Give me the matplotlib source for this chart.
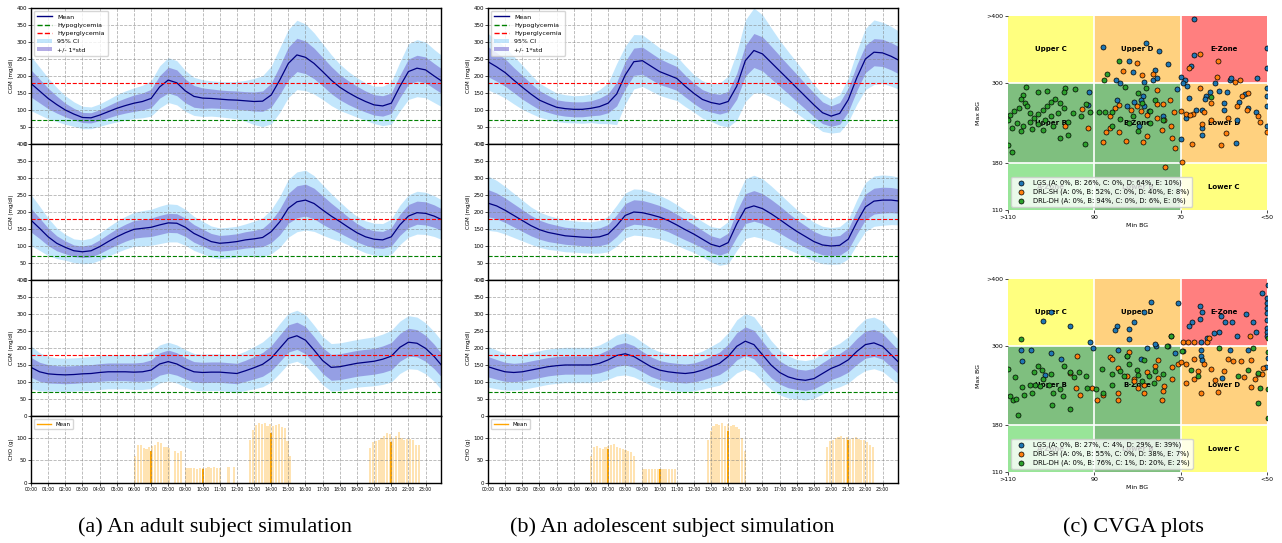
import numpy as np
import matplotlib
matplotlib.use("Agg")
import matplotlib.pyplot as plt
from matplotlib.lines import Line2D
from matplotlib.patches import Patch, Rectangle

# sampling grid of the simulated CGM traces (every 30 min)
hours = np.arange(0, 24.01, 0.5)

# ---------------- adult subject ----------------
a1_mean = [178, 156, 134, 116, 100, 88, 78, 77, 85, 95, 105, 113, 120, 125, 134, 168, 188, 180, 156, 140,
           135, 134, 132, 130, 129, 127, 125, 126, 144, 188, 237, 262, 255, 237, 213, 188, 167, 151, 137, 125,
           115, 112, 120, 169, 213, 223, 218, 200, 183]
a1_std = [40, 35, 30, 25, 20, 17, 15, 15, 16, 18, 20, 22, 24, 25, 27, 33, 38, 38, 35, 32,
          30, 28, 27, 27, 27, 27, 28, 30, 35, 42, 48, 49, 48, 45, 42, 40, 37, 35, 33, 31,
          30, 30, 30, 33, 37, 38, 38, 37, 36]
a1_ci = [80, 70, 60, 50, 42, 36, 33, 32, 33, 36, 40, 43, 45, 48, 52, 62, 66, 65, 60, 56,
         54, 52, 52, 53, 55, 60, 68, 75, 85, 95, 100, 102, 98, 90, 82, 75, 68, 62, 58, 55,
         55, 58, 62, 72, 82, 84, 82, 78, 75]

a2_mean = [176, 152, 127, 108, 96, 86, 83, 86, 98, 113, 127, 139, 149, 152, 155, 162, 168, 167, 155, 137,
           125, 113, 108, 110, 113, 118, 121, 125, 142, 171, 211, 230, 235, 225, 206, 188, 172, 155, 139, 127,
           120, 118, 127, 162, 188, 198, 196, 188, 176]
a2_std = [35, 30, 26, 22, 19, 17, 17, 18, 20, 22, 24, 25, 26, 26, 27, 28, 28, 28, 27, 26,
          25, 24, 23, 23, 23, 24, 25, 27, 32, 38, 44, 47, 47, 45, 42, 38, 34, 30, 27, 25,
          25, 25, 27, 31, 34, 34, 34, 33, 32]
a2_ci = [75, 65, 55, 45, 38, 35, 35, 37, 40, 43, 46, 48, 50, 52, 53, 55, 56, 55, 53, 50,
         48, 46, 45, 45, 45, 47, 52, 58, 65, 75, 85, 88, 88, 82, 74, 66, 58, 52, 48, 47,
         47, 48, 52, 58, 62, 63, 62, 60, 58]

a3_mean = [143, 130, 124, 122, 121, 122, 124, 125, 128, 130, 130, 130, 129, 130, 135, 153, 160, 153, 140, 130,
           128, 129, 129, 127, 125, 133, 142, 152, 170, 199, 228, 236, 223, 194, 163, 143, 145, 150, 155, 158,
           161, 167, 176, 202, 217, 214, 199, 175, 145]
a3_std = [29, 28, 27, 26, 26, 26, 26, 26, 26, 26, 26, 26, 27, 28, 30, 33, 34, 33, 31, 30,
          30, 30, 30, 30, 30, 31, 33, 35, 37, 39, 40, 40, 40, 39, 38, 38, 38, 38, 38, 38,
          38, 39, 40, 41, 41, 40, 38, 36, 34]
a3_ci = [63, 56, 51, 49, 49, 49, 49, 50, 50, 50, 50, 50, 51, 52, 54, 56, 57, 56, 55, 54,
         54, 54, 54, 55, 56, 58, 62, 66, 70, 73, 74, 75, 75, 73, 71, 70, 70, 70, 70, 71,
         72, 74, 76, 77, 78, 77, 75, 73, 72]

# ---------------- adolescent subject ----------------
b1_mean = [242, 227, 210, 188, 167, 147, 129, 118, 108, 104, 102, 102, 105, 110, 120, 147, 203, 242, 245, 229,
           213, 203, 193, 170, 149, 131, 122, 117, 125, 170, 245, 275, 265, 240, 215, 190, 165, 140, 115, 92,
           82, 90, 130, 195, 250, 270, 268, 258, 245]
b1_std = [44, 42, 40, 37, 35, 31, 28, 25, 22, 22, 22, 22, 22, 25, 28, 35, 40, 40, 40, 39,
          38, 36, 35, 32, 30, 29, 28, 29, 30, 38, 45, 50, 50, 48, 45, 42, 40, 37, 35, 32,
          30, 32, 35, 38, 40, 40, 40, 40, 40]
b1_ci = [83, 79, 75, 70, 65, 57, 50, 46, 42, 41, 40, 41, 42, 50, 60, 90, 85, 80, 76, 73,
         70, 68, 65, 60, 55, 55, 55, 62, 75, 100, 120, 125, 115, 102, 90, 82, 75, 68, 60, 55,
         50, 55, 65, 78, 90, 95, 90, 88, 85]

b2_mean = [226, 218, 205, 190, 175, 160, 148, 140, 135, 130, 128, 126, 125, 127, 135, 160, 190, 200, 198, 192,
           185, 175, 162, 148, 135, 120, 105, 98, 110, 165, 210, 218, 210, 195, 178, 160, 143, 128, 113, 103,
           100, 102, 120, 170, 215, 232, 235, 235, 232]
b2_std = [40, 38, 36, 34, 32, 30, 28, 27, 26, 25, 25, 25, 25, 26, 28, 32, 35, 36, 36, 35,
          34, 33, 32, 30, 28, 26, 25, 25, 28, 38, 44, 45, 44, 42, 40, 37, 34, 32, 30, 29,
          28, 29, 31, 35, 38, 38, 38, 37, 36]
b2_ci = [80, 75, 70, 65, 60, 55, 52, 50, 48, 47, 46, 46, 46, 48, 52, 60, 66, 68, 68, 66,
         64, 62, 60, 57, 54, 52, 52, 55, 62, 78, 88, 90, 88, 82, 76, 70, 64, 60, 57, 55,
         54, 55, 58, 66, 72, 74, 74, 72, 70]

b3_mean = [145, 137, 130, 128, 130, 135, 140, 145, 148, 150, 150, 150, 150, 155, 165, 178, 183, 175, 160, 145,
           135, 130, 127, 125, 128, 135, 145, 155, 175, 205, 220, 210, 180, 150, 128, 115, 108, 105, 110, 125,
           140, 150, 165, 190, 210, 215, 205, 180, 155]
b3_std = [30, 29, 28, 27, 27, 27, 27, 27, 27, 27, 27, 27, 27, 28, 30, 32, 33, 32, 30, 29,
          28, 28, 28, 28, 28, 29, 31, 33, 36, 40, 42, 42, 40, 37, 34, 32, 30, 30, 30, 32,
          33, 34, 36, 38, 40, 40, 38, 36, 34]
b3_ci = [60, 57, 54, 52, 52, 52, 52, 52, 52, 52, 52, 52, 52, 54, 57, 60, 62, 60, 57, 55,
         54, 54, 54, 54, 54, 56, 60, 64, 70, 78, 82, 82, 78, 72, 66, 62, 58, 58, 58, 60,
         62, 64, 68, 72, 76, 76, 74, 70, 66]

# ---------------- carbohydrate intake (10-min samples per meal window) ----------------
cho_step = 1 / 6
cho_a_start = [6.0, 8.95, 11.45, 12.72, 19.7]
cho_a_light = [[60, 83, 84, 78, 76, 80, 82, 85, 90, 88, 80, 80, 78, 0, 70, 66, 70],
               [34, 33, 34, 33, 32, 34, 33, 34, 35, 34, 35, 34, 33],
               [36, 0, 36],
               [96, 117, 128, 132, 130, 133, 127, 131, 126, 128, 130, 124, 122, 93, 60],
               [78, 90, 92, 96, 100, 104, 111, 108, 100, 104, 112, 100, 96, 98, 97, 96, 85, 84]]
cho_a_mean_t = [7, 10, 14, 21]
cho_a_mean = [70, 32, 111, 90]

cho_b_start = [5.95, 9.0, 12.75, 19.7]
cho_b_light = [[60, 80, 82, 78, 76, 80, 82, 84, 86, 80, 78, 76, 74, 70, 68, 60],
               [32, 31, 32, 30, 31, 32, 30, 31, 32, 31, 30, 32],
               [95, 115, 125, 130, 128, 132, 127, 130, 126, 128, 124, 120, 100, 70],
               [80, 92, 96, 100, 102, 104, 100, 102, 98, 100, 102, 98, 96, 94, 90, 85, 80]]
cho_b_mean_t = [7, 10, 14, 21]
cho_b_mean = [75, 30, 115, 95]

hour_labels = ["%02d:00" % h for h in range(24)]

# ---------------- CVGA ----------------
zone_x = [110, 90, 70, 50]
zone_y = [110, 180, 300, 400]
zone_names = [["A-Zone", "Lower B", "Lower C"],
              ["Upper B", "B-Zone", "Lower D"],
              ["Upper C", "Upper D", "E-Zone"]]
zone_colors = [[("limegreen", 0.5), ("green", 0.5), ("yellow", 0.5)],
               [("green", 0.5), ("green", 0.5), ("orange", 0.5)],
               [("yellow", 0.5), ("orange", 0.5), ("red", 0.5)]]

lgs_top = [(67, 395), (78, 359), (88, 353), (75, 348), (67, 342), (50, 352), (50, 322), (73, 328), (82, 333),
           (76, 319), (81, 316), (70, 309), (69, 304), (85, 304), (84, 300), (78.5, 302), (76.4, 304), (75.4, 307),
           (58.6, 304), (58.4, 308), (52.3, 308), (68.6, 295), (69.4, 300), (67.5, 325), (91.3, 286), (91.4, 267),
           (84.7, 275), (80.9, 272), (78.7, 281), (79.3, 275), (78.5, 265), (82.4, 265), (77.4, 258), (70.8, 291),
           (64.2, 280), (63.2, 286), (61.1, 288), (59.2, 287), (64.4, 276), (68.1, 278), (66.5, 260), (65, 260),
           (68.8, 247), (65, 232), (65, 222), (57.2, 210), (50, 235), (50, 293), (50, 280), (50, 265), (56.4, 272),
           (54.5, 262), (52.6, 256), (59.9, 260), (70, 216), (79.7, 235), (62, 300), (60, 270), (74, 250),
           (55, 283), (57, 245)]
sh_top = [(65.6, 343), (61.3, 332), (68, 323), (80.2, 330), (83.4, 318), (78.9, 312), (76.5, 313), (61.6, 309),
          (56.2, 304), (57.5, 302), (65.6, 293), (75.4, 290), (72.5, 274), (54.3, 285), (55.8, 280), (68.7, 254),
          (67.2, 254), (71.6, 256), (70, 258), (92.9, 261), (96.9, 235), (91.5, 232), (85.1, 262), (84.3, 267),
          (86.3, 251), (81.6, 260), (80.1, 265), (79.1, 258), (77.8, 252), (75.4, 248), (73.9, 245), (86.3, 232),
          (87.2, 227), (84.2, 226), (82.6, 213), (88, 211), (78.8, 212), (77.8, 221), (74.3, 229), (72.2, 235),
          (72, 218), (71.2, 202), (69.6, 182), (73.7, 174), (67.4, 208), (65, 238), (62.9, 245), (64.6, 256),
          (59, 247), (60.7, 207), (59.5, 225), (54.7, 260), (51.6, 241), (50, 227), (67.9, 252), (75.4, 268),
          (74, 268), (63, 270), (57, 265), (52, 250)]
dh_top = [(110, 207), (109, 196), (105.8, 294), (106.5, 282), (107, 276), (106, 270), (105.5, 265), (107.5, 262),
          (108.5, 258), (109.5, 252), (110, 245), (108, 240), (106.5, 236), (105, 242), (104, 248), (103, 253),
          (102, 260), (101, 266), (100, 272), (99, 276), (98, 270), (97, 262), (98.5, 255), (100, 250),
          (101.5, 245), (103, 238), (104.5, 231), (107, 228), (109, 233), (102, 230), (99.5, 235), (96, 242),
          (95, 255), (94.4, 291), (96.8, 292), (92, 268), (93, 250), (91, 257), (89, 257), (87.5, 256), (86, 257),
          (92.1, 209), (96, 222), (98, 218), (87, 313), (84.3, 333), (87.8, 304), (83, 294), (80, 285), (78, 292),
          (76, 275), (79, 270), (77, 258), (81, 250), (84, 246), (82, 240), (86, 236), (80, 228), (77, 240),
          (74, 245), (62.9, 279), (103, 286), (101, 288), (97, 287), (105, 255)]

lgs_bot = [(49.8, 391), (51.2, 379), (50, 371), (50, 364), (50, 356), (50, 349), (50, 339), (50, 326), (50, 321),
           (50, 314), (76.9, 365), (70.6, 364), (65.5, 360), (65.1, 351), (100, 351), (101.8, 337), (95.7, 329),
           (65.5, 340), (60.7, 344), (54.9, 347), (59.8, 335), (58.2, 335), (53.2, 335), (52.6, 321), (57, 315),
           (67.3, 335), (68.1, 329), (61.1, 321), (62.2, 319), (64, 311), (65.3, 306), (78.4, 351), (80.9, 336),
           (84.7, 329), (82, 325), (85.3, 324), (81.9, 310), (90.9, 305), (90.2, 296), (72.3, 314), (75.8, 299),
           (77.7, 296), (71.2, 289), (65.3, 294), (65.3, 285), (65, 278), (107, 294), (104.7, 294), (106.7, 277),
           (100, 289), (97.7, 280), (101.4, 256), (84.5, 294), (82.4, 285), (79.3, 280), (60.5, 251), (49.8, 281),
           (50.3, 268), (54.5, 294), (58.5, 294), (69.4, 292), (73, 300), (76, 302)]
sh_bot = [(69.4, 305), (68.2, 305), (67, 306), (64, 306), (53.9, 315), (63.5, 311), (94, 285), (95.7, 259),
          (93.3, 226), (94.3, 236), (90.5, 236), (89.4, 218), (88, 226), (84.5, 228), (84.6, 218), (86.4, 283),
          (84.6, 266), (82.5, 255), (80.9, 250), (80.7, 246), (78.4, 241), (78.4, 228), (80, 236), (77.8, 260),
          (75.3, 279), (75.3, 251), (74.3, 218), (73.9, 239), (71.9, 249), (74.2, 232), (70.6, 273), (70, 275),
          (68.7, 273), (67, 280), (64.7, 272), (66.9, 249), (68.8, 243), (65.3, 228), (61.3, 230), (59, 280),
          (57.9, 277), (56, 277), (53.6, 278), (51, 267), (52.2, 257), (55.3, 252), (52.8, 250), (53.7, 237),
          (51.2, 258), (72, 268), (76, 270), (82, 290), (86, 280), (63, 265), (60, 262), (62, 248), (66, 262)]
dh_bot = [(106.9, 310), (110, 265), (108.4, 252), (109.5, 224), (108.8, 218), (108.2, 220), (107.6, 195),
          (106.2, 225), (106.8, 237), (103.1, 269), (102.2, 264), (103.7, 241), (102.7, 239), (101.8, 250),
          (99.5, 229), (99.8, 211), (97.3, 224), (95.7, 260), (94.6, 253), (93.5, 261), (95.6, 204), (91.7, 236),
          (89.5, 235), (88.2, 265), (88, 229), (86, 257), (83.2, 254), (82.4, 284), (80.1, 264), (78.5, 279),
          (77.3, 254), (76.2, 244), (73.1, 300), (72.2, 314), (69.6, 292), (67.5, 264), (66, 254), (61.1, 296),
          (56.8, 254), (54.5, 264), (53.2, 296), (52, 259), (51.6, 236), (52.2, 213), (49.8, 291), (49.8, 234),
          (49.8, 191), (49.8, 312), (105, 240), (104, 260), (100.5, 240), (98, 235), (100, 257), (104.5, 228),
          (97, 270), (92, 255), (86, 240), (84, 262), (80, 256), (79, 247), (76, 262), (74, 258), (82, 272)]

cvga_labels_top = ["LGS (A: 0%, B: 26%, C: 0%, D: 64%, E: 10%)",
                   "DRL-SH (A: 0%, B: 52%, C: 0%, D: 40%, E: 8%)",
                   "DRL-DH (A: 0%, B: 94%, C: 0%, D: 6%, E: 0%)"]
cvga_labels_bot = ["LGS (A: 0%, B: 27%, C: 4%, D: 29%, E: 39%)",
                   "DRL-SH (A: 0%, B: 55%, C: 0%, D: 38%, E: 7%)",
                   "DRL-DH (A: 0%, B: 76%, C: 1%, D: 20%, E: 2%)"]

captions = ["(a) An adult subject simulation", "(b) An adolescent subject simulation", "(c) CVGA plots"]

W, H = 1282, 543
fig = plt.figure(figsize=(W / 100, H / 100), dpi=100)


def px_axes(left, top, right, bottom):
    return fig.add_axes([left / W, 1 - bottom / H, (right - left) / W, (bottom - top) / H])


TICK_FS = 4
X_END = 23.9


def cgm_panel(ax, mean, std, ci, legend=False):
    mean = np.array(mean)
    std = np.array(std)
    ci = np.array(ci)
    ax.fill_between(hours, mean - ci, mean + ci, color="lightskyblue", alpha=0.5, lw=0)
    ax.fill_between(hours, mean - std, mean + std, color="slateblue", alpha=0.5, lw=0)
    ax.plot(hours, mean, color="navy", lw=0.9)
    ax.axhline(70, color="green", ls="--", lw=0.8)
    ax.axhline(180, color="red", ls="--", lw=0.8)
    ax.set_xlim(0, X_END)
    ax.set_ylim(0, 400)
    ax.set_yticks(range(0, 401, 50))
    ax.set_xticks(range(24))
    ax.set_xticklabels([])
    ax.tick_params(labelsize=TICK_FS, length=2, width=0.5, pad=1)
    ax.set_ylabel("CGM (mg/dl)", fontsize=TICK_FS, labelpad=2)
    ax.grid(True, ls="--", color="grey", alpha=0.6, lw=0.6)
    for sp in ax.spines.values():
        sp.set_linewidth(1.0)
    if legend:
        handles = [Line2D([], [], color="navy", lw=1),
                   Line2D([], [], color="green", ls="--", lw=1),
                   Line2D([], [], color="red", ls="--", lw=1),
                   Patch(facecolor="lightskyblue", alpha=0.5),
                   Patch(facecolor="slateblue", alpha=0.5)]
        ax.legend(handles, ["Mean", "Hypoglycemia", "Hyperglycemia", "95% CI", "+/- 1*std"],
                  loc="upper left", fontsize=4.5, handlelength=2.4, borderpad=0.5, labelspacing=0.45)


def cho_panel(ax, starts, light, mean_t, mean_h):
    for s, hs in zip(starts, light):
        ts = [s + i * cho_step for i in range(len(hs))]
        ax.bar(ts, hs, width=0.13, color="orange", alpha=0.3, lw=0, align="edge")
    ax.bar(mean_t, mean_h, width=0.12, color="orange", lw=0)
    ax.set_xlim(0, X_END)
    ax.set_ylim(0, 148)
    ax.set_yticks([0, 50, 100])
    ax.set_xticks(range(24))
    ax.set_xticklabels(hour_labels)
    ax.tick_params(labelsize=TICK_FS, length=2, width=0.5, pad=1)
    ax.tick_params(axis="x", labelsize=3.3)
    ax.set_ylabel("CHO (g)", fontsize=TICK_FS, labelpad=2)
    ax.grid(True, ls="--", color="grey", alpha=0.6, lw=0.6)
    for sp in ax.spines.values():
        sp.set_linewidth(1.0)
    ax.legend([Line2D([], [], color="orange", lw=1)], ["Mean"], loc="upper left", fontsize=4,
              handlelength=2.6, borderpad=0.5)


tops = [8, 144, 280, 416]
for left, means, cho in [(31, [(a1_mean, a1_std, a1_ci), (a2_mean, a2_std, a2_ci), (a3_mean, a3_std, a3_ci)],
                          (cho_a_start, cho_a_light, cho_a_mean_t, cho_a_mean)),
                         (488, [(b1_mean, b1_std, b1_ci), (b2_mean, b2_std, b2_ci), (b3_mean, b3_std, b3_ci)],
                          (cho_b_start, cho_b_light, cho_b_mean_t, cho_b_mean))]:
    for i, (m, s, c) in enumerate(means):
        ax = px_axes(left, tops[i], left + 410, tops[i + 1])
        cgm_panel(ax, m, s, c, legend=(i == 0))
    ax = px_axes(left, 416, left + 410, 483)
    cho_panel(ax, *cho)


def cvga_panel(ax, series, labels):
    for r in range(3):
        for c in range(3):
            col, al = zone_colors[r][c]
            x0, x1 = zone_x[c], zone_x[c + 1]
            y0, y1 = zone_y[r], zone_y[r + 1]
            ax.add_patch(Rectangle((x1, y0), x0 - x1, y1 - y0, facecolor=col, alpha=al,
                                   edgecolor="none", zorder=0))
            ax.text((x0 + x1) / 2, (y0 + y1) / 2, zone_names[r][c], ha="center", va="center",
                    fontsize=5, fontweight="bold", zorder=1)
    for v in zone_x[1:-1]:
        ax.axvline(v, color="white", lw=1.2, zorder=0.5)
    for v in zone_y[1:-1]:
        ax.axhline(v, color="white", lw=1.2, zorder=0.5)
    for pts, col, lab in zip(series, ["C0", "C1", "C2"], labels):
        xs, ys = zip(*pts)
        ax.scatter(xs, ys, s=13, color=col, edgecolor="black", lw=0.5, label=lab, zorder=3)
    ax.set_xlim(110, 50)
    ax.set_ylim(110, 400)
    ax.set_xticks(zone_x)
    ax.set_xticklabels([">110", "90", "70", "<50"])
    ax.set_yticks(zone_y)
    ax.set_yticklabels(["110", "180", "300", ">400"])
    ax.tick_params(labelsize=4.5, length=2, width=0.5, pad=1.5)
    for sp in ax.spines.values():
        sp.set_visible(False)
    ax.set_xlabel("Min BG", fontsize=4.5, labelpad=2)
    ax.set_ylabel("Max BG", fontsize=4.5, labelpad=4)
    ax.legend(loc="lower left", fontsize=4.9, framealpha=0.8, borderpad=0.4, handletextpad=0.8,
              labelspacing=0.35)


ax = px_axes(1008, 16, 1267, 210)
cvga_panel(ax, [lgs_top, sh_top, dh_top], cvga_labels_top)
ax = px_axes(1008, 279, 1267, 472)
cvga_panel(ax, [lgs_bot, sh_bot, dh_bot], cvga_labels_bot)

for x, txt in zip([215, 672, 1133], captions):
    fig.text(x / W, 1 - 527 / H, txt, ha="center", va="center", fontsize=16, family="Liberation Serif")

fig.savefig("out.png", dpi=100)
